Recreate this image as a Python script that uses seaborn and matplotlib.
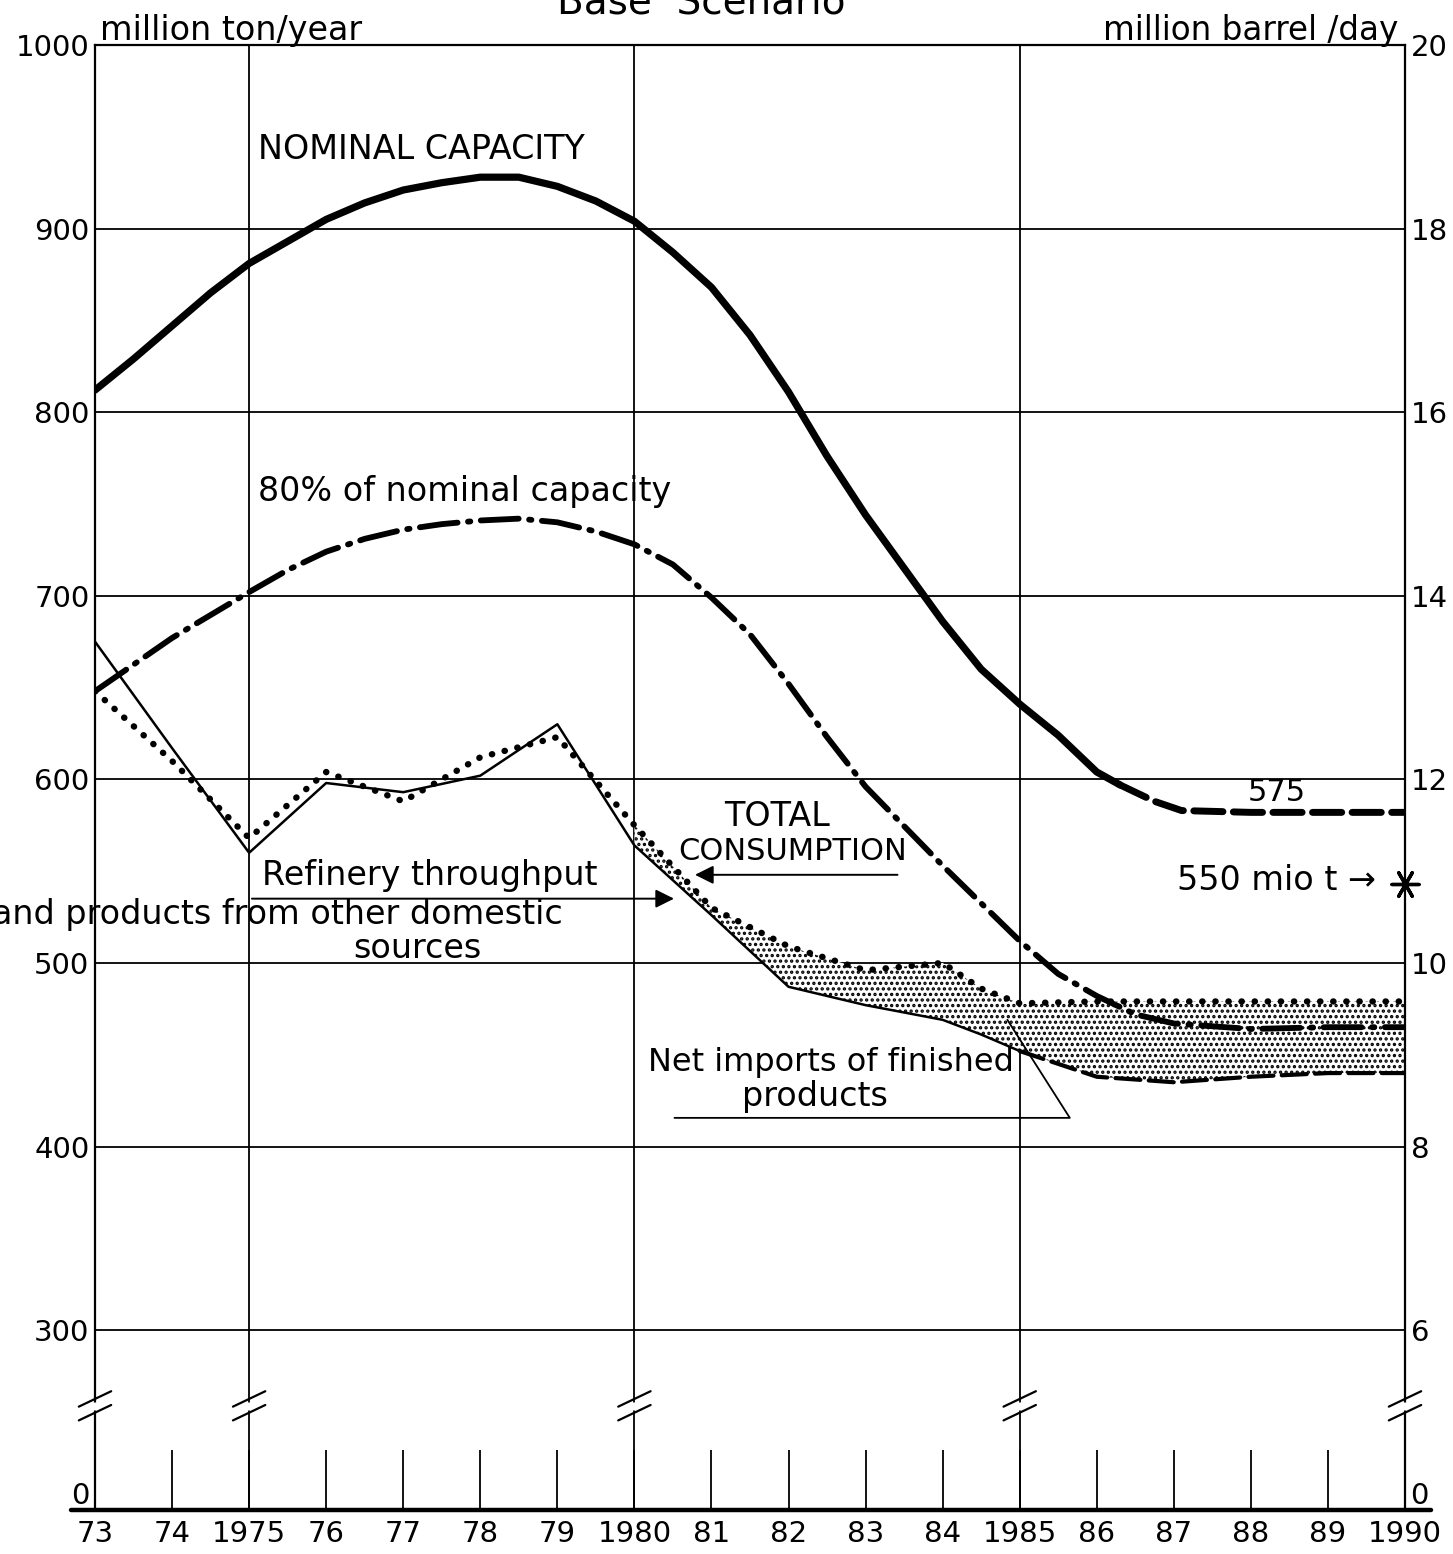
import matplotlib
matplotlib.use("Agg")
import matplotlib.pyplot as plt
import numpy as np
import seaborn as sns

# ---------------- data ----------------
nom_years = [1973, 1973.5, 1974, 1974.5, 1975, 1975.5, 1976, 1976.5, 1977, 1977.5,
             1978, 1978.5, 1979, 1979.5, 1980, 1980.5, 1981, 1981.5,
             1982, 1982.5, 1983, 1983.5, 1984, 1984.5, 1985, 1985.5, 1986, 1986.3,
             1986.75, 1987.1, 1988, 1989, 1990]
nom_values = [812, 829, 847, 865, 881, 893, 905, 914, 921, 925,
              928, 928, 923, 915, 904, 887, 868, 842,
              811, 776, 744, 715, 686, 660, 641, 624, 604, 597,
              588, 583, 582, 582, 582]
nom_solid_until = 1986.3

cap80_years = [1973, 1974, 1975, 1975.5, 1976, 1976.5, 1977, 1977.5, 1978, 1978.5,
               1979, 1979.5, 1980, 1980.5, 1981, 1981.5,
               1982, 1982.5, 1983, 1984, 1985, 1985.5, 1986, 1986.5, 1987, 1988, 1989, 1990]
cap80_values = [648, 677, 702, 714, 724, 731, 736, 739, 741, 742,
                740, 735, 728, 717, 699, 679,
                652, 623, 596, 553, 512, 494, 482, 472, 467, 464, 465, 465]

flow_years = [1973, 1974, 1975, 1976, 1977, 1978, 1979, 1980, 1981, 1982, 1983, 1984,
              1984.5, 1985, 1986, 1987, 1988, 1989, 1990]
consumption = [648, 610, 568, 604, 588, 612, 623, 575, 530, 509, 496, 500,
               486, 478, 479, 479, 479, 479, 479]
refinery = [675, 617, 560, 598, 593, 602, 630, 564, 526, 487, 477, 469,
            461, 452, 438, 435, 438, 440, 440]
refinery_solid_until = 1985
imports_from = 1980

star_year = [1990]
star_value = [543]

year_ticks = list(range(1973, 1991))
year_labels = ['73', '74', '1975', '76', '77', '78', '79', '1980', '81', '82', '83',
               '84', '1985', '86', '87', '88', '89', '1990']
left_tick_values = [300, 400, 500, 600, 700, 800, 900, 1000]
left_labels = ['300', '400', '500', '600', '700', '800', '900', '1000']
right_labels = ['6', '8', '10', '12', '14', '16', '18', '20']
zero_label = '0'
major_years = [1975, 1980, 1985]
break_years = [1973, 1975, 1980, 1985, 1990]

# ---------------- layout constants ----------------
AXIS_FLOOR = 202      # where the broken axis puts "0"
Y_TOP = 1000
FS = 21
FA = 24

sns.set_style("white")
plt.rcParams['font.family'] = ['DejaVu Sans']
plt.rcParams['hatch.linewidth'] = 1.6
plt.rcParams['hatch.color'] = 'black'
plt.rcParams['text.color'] = 'black'
plt.rcParams['xtick.color'] = 'black'
plt.rcParams['ytick.color'] = 'black'
plt.rcParams['xtick.labelcolor'] = 'black'
plt.rcParams['ytick.labelcolor'] = 'black'
plt.rcParams['axes.labelcolor'] = 'black'

fig = plt.figure(figsize=(14.53, 15.54), dpi=100)
ax = fig.add_axes([95 / 1453, 44 / 1554, 1310 / 1453, 1465 / 1554])
ax.set_xlim(1973, 1990)
ax.set_ylim(AXIS_FLOOR, Y_TOP)

# grid
for v in left_tick_values[:-1]:
    ax.axhline(v, color='black', lw=1.3, zorder=1)
for yr in major_years:
    ax.axvline(yr, color='black', lw=1.3, zorder=1)

# ---- lines ----
ny = np.array(nom_years); nv = np.array(nom_values)
m1 = ny <= nom_solid_until
m2 = ny >= nom_solid_until
sns.lineplot(x=ny[m1], y=nv[m1], ax=ax, color='black', lw=5.2, estimator=None,
             sort=False, solid_capstyle='round', solid_joinstyle='round', zorder=5)
sns.lineplot(x=ny[m2], y=nv[m2], ax=ax, color='black', lw=5.0, estimator=None,
             sort=False, linestyle=(0, (4.2, 1.5)), dash_capstyle='round', zorder=5)

sns.lineplot(x=cap80_years, y=cap80_values, ax=ax, color='black', lw=4.2, estimator=None,
             sort=False, linestyle=(0, (6.5, 1.8, 0.4, 1.8)), dash_capstyle='round', zorder=5)

fy = np.array(flow_years); cv = np.array(consumption); rv = np.array(refinery)
sns.lineplot(x=fy, y=cv, ax=ax, color='black', lw=4.6, estimator=None, sort=False,
             linestyle=(0, (0.05, 2.0)), dash_capstyle='round', zorder=6)
r1 = fy <= refinery_solid_until
r2 = fy >= refinery_solid_until
sns.lineplot(x=fy[r1], y=rv[r1], ax=ax, color='black', lw=1.8, estimator=None,
             sort=False, zorder=6)
sns.lineplot(x=fy[r2], y=rv[r2], ax=ax, color='black', lw=3.0, estimator=None,
             sort=False, linestyle=(0, (6, 2)), dash_capstyle='round', zorder=6)

# net imports stipple
ax.fill_between(fy, rv, cv, where=fy >= imports_from, facecolor='white',
                edgecolor='black', hatch='...', linewidth=0, zorder=2)

# 550 mio t star
sns.scatterplot(x=star_year, y=star_value, ax=ax, marker=(6, 2, 90), s=380,
                color='black', edgecolor='black', linewidth=2.4, zorder=7, clip_on=False)

# ---- axes styling ----
for side in ['left', 'right', 'top']:
    ax.spines[side].set_linewidth(1.6)
    ax.spines[side].set_color('black')
ax.spines['bottom'].set_visible(False)
ax.axhline(AXIS_FLOOR, xmin=-0.018, xmax=1.02, color='black', lw=3.2, clip_on=False, zorder=8)

ax.set_xticks(year_ticks)
ax.set_xticklabels(year_labels, fontsize=FS, color='black')
ax.tick_params(axis='x', bottom=True, direction='in', length=43, width=1.3,
               color='black', labelcolor='black', pad=7)

ax.set_yticks([AXIS_FLOOR] + left_tick_values)
ax.set_yticklabels([zero_label] + left_labels, fontsize=FS, color='black')
ax.tick_params(axis='y', length=0, pad=4, labelcolor='black')
ax.get_yticklabels()[0].set_verticalalignment('bottom')

ax2 = ax.twinx()
ax2.set_ylim(AXIS_FLOOR, Y_TOP)
ax2.set_yticks([AXIS_FLOOR] + left_tick_values)
ax2.set_yticklabels([zero_label] + right_labels, fontsize=FS, color='black')
ax2.tick_params(axis='y', length=0, pad=4, labelcolor='black')
ax2.get_yticklabels()[0].set_verticalalignment('bottom')
for s in ax2.spines.values():
    s.set_visible(False)
ax.grid(False); ax2.grid(False)

# axis break marks
for bx in break_years:
    ax.plot([bx, bx], [256.5, 261.0], color='white', lw=5, zorder=3.5,
            clip_on=False, solid_capstyle='butt')
    for cy in (262.5, 255.0):
        ax.plot([bx - 0.21, bx + 0.21], [cy - 4.2, cy + 4.2], color='black', lw=1.6,
                zorder=4, clip_on=False)

# ---- texts ----
tk = dict(fontsize=FA, color='black')
ax.text(1975.11, 943, 'NOMINAL CAPACITY', ha='left', va='center', **tk)
ax.text(1975.11, 757, '80% of nominal capacity', ha='left', va='center', **tk)
ax.text(1981.85, 580, 'TOTAL', ha='center', va='center', **tk)
ax.text(1982.05, 560.5, 'CONSUMPTION', ha='center', va='center', fontsize=22, color='black')
ax.annotate('', xy=(1980.75, 548), xytext=(1983.45, 548),
            arrowprops=dict(arrowstyle='-|>', lw=1.4, color='black', mutation_scale=28))
ax.text(1975.17, 547.5, 'Refinery throughput', ha='left', va='center', **tk)
ax.annotate('', xy=(1980.55, 535), xytext=(1975.0, 535),
            arrowprops=dict(arrowstyle='-|>', lw=1.4, color='black', mutation_scale=28))
ax.text(1971.66, 526.5, 'and products from other domestic', ha='left', va='center',
        clip_on=False, **tk)
ax.text(1977.18, 508, 'sources', ha='center', va='center', **tk)
ax.text(1980.17, 446, 'Net imports of finished', ha='left', va='center', fontsize=23,
        color='black')
ax.text(1982.34, 427, 'products', ha='center', va='center', **tk)
ax.plot([1980.52, 1985.65, 1984.84], [415.6, 415.6, 469], color='black', lw=1.3, zorder=6)
ax.text(1988.33, 593, '575', ha='center', va='center', fontsize=22, color='black')
ax.text(1989.62, 545, '550 mio t →', ha='right', va='center', **tk)

ax.text(0.004, 1.010, 'million ton/year', transform=ax.transAxes, ha='left',
        va='center', **tk)
ax.text(0.995, 1.010, 'million barrel /day', transform=ax.transAxes, ha='right',
        va='center', fontsize=23.5, color='black')
fig.text(701 / 1453, 1 - 14 / 1554, 'Base  Scenario', ha='center', va='baseline',
         fontsize=28, color='black')

fig.savefig('out.png', dpi=100, facecolor='white')
